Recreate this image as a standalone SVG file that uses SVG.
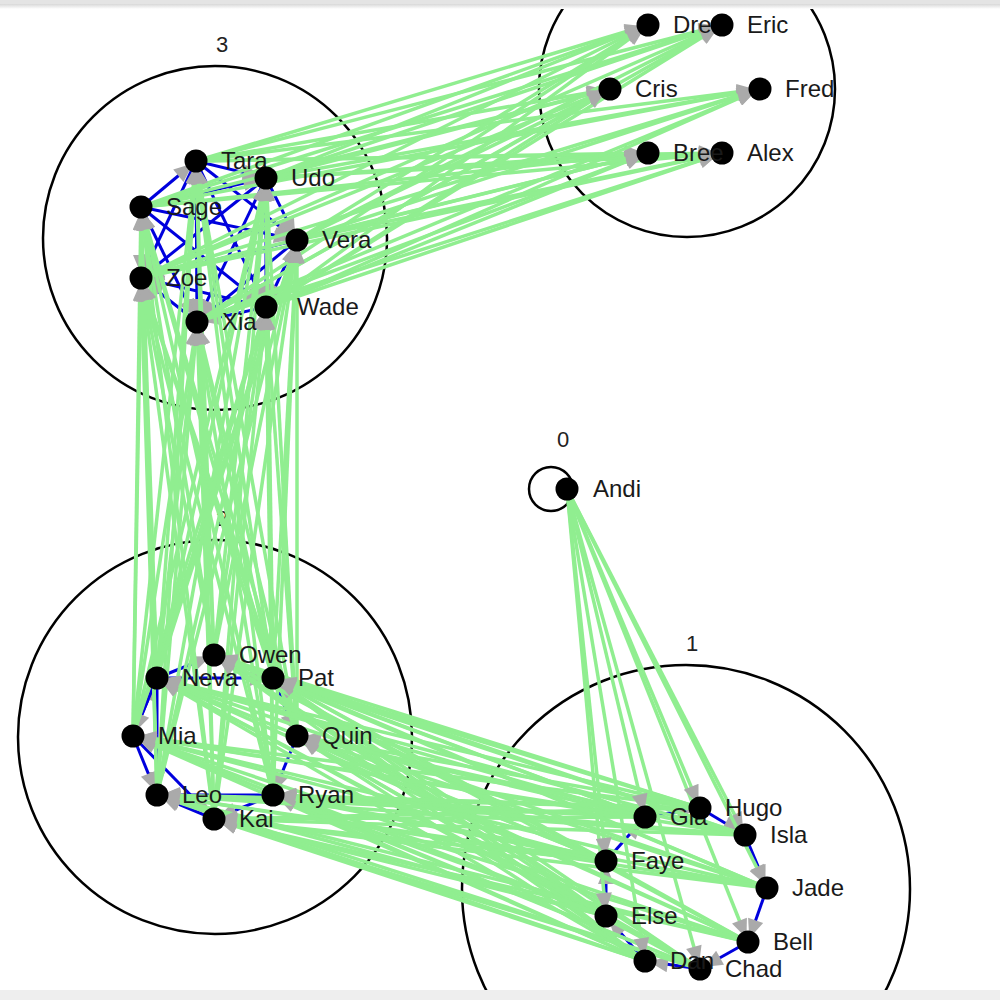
<svg xmlns="http://www.w3.org/2000/svg" width="1000" height="1000" viewBox="0 0 1000 1000">
<defs>
<style>
.cl{fill:none;stroke:#000;stroke-width:2.5}
.ct{font-family:"Liberation Sans",Arial,sans-serif;font-size:22px;fill:#222;text-anchor:middle}
.nl{font-family:"Liberation Sans",Arial,sans-serif;font-size:24px;fill:#1a1a1a}
.dot{fill:#000}
#green line{stroke:#90EE90;stroke-width:3.5;marker-end:url(#ah)}
#blue line{stroke:#0000dd;stroke-width:3;marker-end:url(#ah)}
</style>
<marker id="ah" viewBox="0 0 26 16" refX="26" refY="8" markerWidth="26" markerHeight="16" markerUnits="userSpaceOnUse" orient="auto">
<path d="M3,0 L22,8 L3,16 Z" fill="#aaaaaa"/>
</marker>
<linearGradient id="topfade" x1="0" y1="0" x2="0" y2="1">
<stop offset="0" stop-color="#d8d8d8"/>
<stop offset="1" stop-color="#ffffff"/>
</linearGradient>
</defs>
<rect x="0" y="0" width="1000" height="1000" fill="#fff"/>
<g id="clusters">
<circle class="cl" cx="551" cy="489" r="22"/>
<circle class="cl" cx="686" cy="889" r="224"/>
<circle class="cl" cx="215" cy="737" r="197"/>
<circle class="cl" cx="215" cy="238" r="172"/>
<circle class="cl" cx="687" cy="89" r="148"/>
<text class="ct" x="563" y="447">0</text>
<text class="ct" x="692" y="651">1</text>
<text class="ct" x="222" y="526">2</text>
<text class="ct" x="222" y="52">3</text>
</g>
<g id="blue">
<line x1="141" y1="207" x2="196" y2="161"/>
<line x1="141" y1="207" x2="266" y2="178"/>
<line x1="141" y1="207" x2="297" y2="240"/>
<line x1="141" y1="207" x2="266" y2="307"/>
<line x1="141" y1="207" x2="197" y2="322"/>
<line x1="141" y1="207" x2="141" y2="278"/>
<line x1="196" y1="161" x2="266" y2="178"/>
<line x1="196" y1="161" x2="297" y2="240"/>
<line x1="196" y1="161" x2="266" y2="307"/>
<line x1="196" y1="161" x2="197" y2="322"/>
<line x1="196" y1="161" x2="141" y2="278"/>
<line x1="266" y1="178" x2="297" y2="240"/>
<line x1="266" y1="178" x2="266" y2="307"/>
<line x1="266" y1="178" x2="197" y2="322"/>
<line x1="266" y1="178" x2="141" y2="278"/>
<line x1="297" y1="240" x2="266" y2="307"/>
<line x1="297" y1="240" x2="197" y2="322"/>
<line x1="297" y1="240" x2="141" y2="278"/>
<line x1="266" y1="307" x2="197" y2="322"/>
<line x1="266" y1="307" x2="141" y2="278"/>
<line x1="197" y1="322" x2="141" y2="278"/>
<line x1="157" y1="678" x2="214" y2="655"/>
<line x1="157" y1="678" x2="273" y2="678"/>
<line x1="273" y1="678" x2="297" y2="736"/>
<line x1="297" y1="736" x2="273" y2="795"/>
<line x1="273" y1="795" x2="157" y2="795"/>
<line x1="133" y1="736" x2="157" y2="678"/>
<line x1="157" y1="678" x2="133" y2="736"/>
<line x1="214" y1="819" x2="157" y2="795"/>
<line x1="273" y1="795" x2="214" y2="819"/>
<line x1="133" y1="736" x2="214" y2="819"/>
<line x1="157" y1="678" x2="157" y2="795"/>
<line x1="133" y1="736" x2="157" y2="795"/>
<line x1="700" y1="808" x2="745" y2="835"/>
<line x1="745" y1="835" x2="767" y2="888"/>
<line x1="767" y1="888" x2="748" y2="942"/>
<line x1="748" y1="942" x2="700" y2="969"/>
<line x1="700" y1="969" x2="645" y2="961"/>
<line x1="645" y1="961" x2="606" y2="916"/>
<line x1="606" y1="916" x2="606" y2="861"/>
<line x1="606" y1="861" x2="645" y2="817"/>
<line x1="645" y1="817" x2="700" y2="808"/>
</g>
<g id="green">
<line x1="141" y1="207" x2="722" y2="153"/>
<line x1="141" y1="207" x2="648" y2="153"/>
<line x1="141" y1="207" x2="610" y2="89"/>
<line x1="141" y1="207" x2="648" y2="25"/>
<line x1="141" y1="207" x2="722" y2="25"/>
<line x1="141" y1="207" x2="760" y2="89"/>
<line x1="196" y1="161" x2="722" y2="153"/>
<line x1="196" y1="161" x2="648" y2="153"/>
<line x1="196" y1="161" x2="610" y2="89"/>
<line x1="196" y1="161" x2="648" y2="25"/>
<line x1="196" y1="161" x2="722" y2="25"/>
<line x1="196" y1="161" x2="760" y2="89"/>
<line x1="266" y1="178" x2="722" y2="153"/>
<line x1="266" y1="178" x2="648" y2="153"/>
<line x1="266" y1="178" x2="610" y2="89"/>
<line x1="266" y1="178" x2="648" y2="25"/>
<line x1="266" y1="178" x2="722" y2="25"/>
<line x1="266" y1="178" x2="760" y2="89"/>
<line x1="297" y1="240" x2="722" y2="153"/>
<line x1="297" y1="240" x2="648" y2="153"/>
<line x1="297" y1="240" x2="610" y2="89"/>
<line x1="297" y1="240" x2="648" y2="25"/>
<line x1="297" y1="240" x2="722" y2="25"/>
<line x1="297" y1="240" x2="760" y2="89"/>
<line x1="266" y1="307" x2="722" y2="153"/>
<line x1="266" y1="307" x2="648" y2="153"/>
<line x1="266" y1="307" x2="610" y2="89"/>
<line x1="266" y1="307" x2="648" y2="25"/>
<line x1="266" y1="307" x2="722" y2="25"/>
<line x1="266" y1="307" x2="760" y2="89"/>
<line x1="197" y1="322" x2="722" y2="153"/>
<line x1="197" y1="322" x2="648" y2="153"/>
<line x1="197" y1="322" x2="610" y2="89"/>
<line x1="197" y1="322" x2="648" y2="25"/>
<line x1="197" y1="322" x2="722" y2="25"/>
<line x1="197" y1="322" x2="760" y2="89"/>
<line x1="141" y1="278" x2="722" y2="153"/>
<line x1="141" y1="278" x2="648" y2="153"/>
<line x1="141" y1="278" x2="610" y2="89"/>
<line x1="141" y1="278" x2="648" y2="25"/>
<line x1="141" y1="278" x2="722" y2="25"/>
<line x1="141" y1="278" x2="760" y2="89"/>
<line x1="214" y1="819" x2="141" y2="207"/>
<line x1="214" y1="819" x2="196" y2="161"/>
<line x1="214" y1="819" x2="266" y2="178"/>
<line x1="214" y1="819" x2="297" y2="240"/>
<line x1="214" y1="819" x2="266" y2="307"/>
<line x1="214" y1="819" x2="197" y2="322"/>
<line x1="214" y1="819" x2="141" y2="278"/>
<line x1="157" y1="795" x2="141" y2="207"/>
<line x1="157" y1="795" x2="196" y2="161"/>
<line x1="157" y1="795" x2="266" y2="178"/>
<line x1="157" y1="795" x2="297" y2="240"/>
<line x1="157" y1="795" x2="266" y2="307"/>
<line x1="157" y1="795" x2="197" y2="322"/>
<line x1="157" y1="795" x2="141" y2="278"/>
<line x1="133" y1="736" x2="141" y2="207"/>
<line x1="133" y1="736" x2="196" y2="161"/>
<line x1="133" y1="736" x2="266" y2="178"/>
<line x1="133" y1="736" x2="297" y2="240"/>
<line x1="133" y1="736" x2="266" y2="307"/>
<line x1="133" y1="736" x2="197" y2="322"/>
<line x1="133" y1="736" x2="141" y2="278"/>
<line x1="157" y1="678" x2="141" y2="207"/>
<line x1="157" y1="678" x2="196" y2="161"/>
<line x1="157" y1="678" x2="266" y2="178"/>
<line x1="157" y1="678" x2="297" y2="240"/>
<line x1="157" y1="678" x2="266" y2="307"/>
<line x1="157" y1="678" x2="197" y2="322"/>
<line x1="157" y1="678" x2="141" y2="278"/>
<line x1="214" y1="655" x2="141" y2="207"/>
<line x1="214" y1="655" x2="196" y2="161"/>
<line x1="214" y1="655" x2="266" y2="178"/>
<line x1="214" y1="655" x2="297" y2="240"/>
<line x1="214" y1="655" x2="266" y2="307"/>
<line x1="214" y1="655" x2="197" y2="322"/>
<line x1="214" y1="655" x2="141" y2="278"/>
<line x1="273" y1="678" x2="141" y2="207"/>
<line x1="273" y1="678" x2="196" y2="161"/>
<line x1="273" y1="678" x2="266" y2="178"/>
<line x1="273" y1="678" x2="297" y2="240"/>
<line x1="273" y1="678" x2="266" y2="307"/>
<line x1="273" y1="678" x2="197" y2="322"/>
<line x1="273" y1="678" x2="141" y2="278"/>
<line x1="297" y1="736" x2="141" y2="207"/>
<line x1="297" y1="736" x2="196" y2="161"/>
<line x1="297" y1="736" x2="266" y2="178"/>
<line x1="297" y1="736" x2="297" y2="240"/>
<line x1="297" y1="736" x2="266" y2="307"/>
<line x1="297" y1="736" x2="197" y2="322"/>
<line x1="297" y1="736" x2="141" y2="278"/>
<line x1="273" y1="795" x2="141" y2="207"/>
<line x1="273" y1="795" x2="196" y2="161"/>
<line x1="273" y1="795" x2="266" y2="178"/>
<line x1="273" y1="795" x2="297" y2="240"/>
<line x1="273" y1="795" x2="266" y2="307"/>
<line x1="273" y1="795" x2="197" y2="322"/>
<line x1="273" y1="795" x2="141" y2="278"/>
<line x1="748" y1="942" x2="214" y2="819"/>
<line x1="748" y1="942" x2="157" y2="795"/>
<line x1="748" y1="942" x2="133" y2="736"/>
<line x1="748" y1="942" x2="157" y2="678"/>
<line x1="748" y1="942" x2="214" y2="655"/>
<line x1="748" y1="942" x2="273" y2="678"/>
<line x1="748" y1="942" x2="297" y2="736"/>
<line x1="748" y1="942" x2="273" y2="795"/>
<line x1="700" y1="969" x2="214" y2="819"/>
<line x1="700" y1="969" x2="157" y2="795"/>
<line x1="700" y1="969" x2="133" y2="736"/>
<line x1="700" y1="969" x2="157" y2="678"/>
<line x1="700" y1="969" x2="214" y2="655"/>
<line x1="700" y1="969" x2="273" y2="678"/>
<line x1="700" y1="969" x2="297" y2="736"/>
<line x1="700" y1="969" x2="273" y2="795"/>
<line x1="645" y1="961" x2="214" y2="819"/>
<line x1="645" y1="961" x2="157" y2="795"/>
<line x1="645" y1="961" x2="133" y2="736"/>
<line x1="645" y1="961" x2="157" y2="678"/>
<line x1="645" y1="961" x2="214" y2="655"/>
<line x1="645" y1="961" x2="273" y2="678"/>
<line x1="645" y1="961" x2="297" y2="736"/>
<line x1="645" y1="961" x2="273" y2="795"/>
<line x1="606" y1="916" x2="214" y2="819"/>
<line x1="606" y1="916" x2="157" y2="795"/>
<line x1="606" y1="916" x2="133" y2="736"/>
<line x1="606" y1="916" x2="157" y2="678"/>
<line x1="606" y1="916" x2="214" y2="655"/>
<line x1="606" y1="916" x2="273" y2="678"/>
<line x1="606" y1="916" x2="297" y2="736"/>
<line x1="606" y1="916" x2="273" y2="795"/>
<line x1="606" y1="861" x2="214" y2="819"/>
<line x1="606" y1="861" x2="157" y2="795"/>
<line x1="606" y1="861" x2="133" y2="736"/>
<line x1="606" y1="861" x2="157" y2="678"/>
<line x1="606" y1="861" x2="214" y2="655"/>
<line x1="606" y1="861" x2="273" y2="678"/>
<line x1="606" y1="861" x2="297" y2="736"/>
<line x1="606" y1="861" x2="273" y2="795"/>
<line x1="645" y1="817" x2="214" y2="819"/>
<line x1="645" y1="817" x2="157" y2="795"/>
<line x1="645" y1="817" x2="133" y2="736"/>
<line x1="645" y1="817" x2="157" y2="678"/>
<line x1="645" y1="817" x2="214" y2="655"/>
<line x1="645" y1="817" x2="273" y2="678"/>
<line x1="645" y1="817" x2="297" y2="736"/>
<line x1="645" y1="817" x2="273" y2="795"/>
<line x1="700" y1="808" x2="214" y2="819"/>
<line x1="700" y1="808" x2="157" y2="795"/>
<line x1="700" y1="808" x2="133" y2="736"/>
<line x1="700" y1="808" x2="157" y2="678"/>
<line x1="700" y1="808" x2="214" y2="655"/>
<line x1="700" y1="808" x2="273" y2="678"/>
<line x1="700" y1="808" x2="297" y2="736"/>
<line x1="700" y1="808" x2="273" y2="795"/>
<line x1="745" y1="835" x2="214" y2="819"/>
<line x1="745" y1="835" x2="157" y2="795"/>
<line x1="745" y1="835" x2="133" y2="736"/>
<line x1="745" y1="835" x2="157" y2="678"/>
<line x1="745" y1="835" x2="214" y2="655"/>
<line x1="745" y1="835" x2="273" y2="678"/>
<line x1="745" y1="835" x2="297" y2="736"/>
<line x1="745" y1="835" x2="273" y2="795"/>
<line x1="767" y1="888" x2="214" y2="819"/>
<line x1="767" y1="888" x2="157" y2="795"/>
<line x1="767" y1="888" x2="133" y2="736"/>
<line x1="767" y1="888" x2="157" y2="678"/>
<line x1="767" y1="888" x2="214" y2="655"/>
<line x1="767" y1="888" x2="273" y2="678"/>
<line x1="767" y1="888" x2="297" y2="736"/>
<line x1="767" y1="888" x2="273" y2="795"/>
<line x1="567" y1="489" x2="748" y2="942"/>
<line x1="567" y1="489" x2="700" y2="969"/>
<line x1="567" y1="489" x2="645" y2="961"/>
<line x1="567" y1="489" x2="606" y2="916"/>
<line x1="567" y1="489" x2="606" y2="861"/>
<line x1="567" y1="489" x2="645" y2="817"/>
<line x1="567" y1="489" x2="700" y2="808"/>
<line x1="567" y1="489" x2="745" y2="835"/>
<line x1="567" y1="489" x2="767" y2="888"/>
</g>
<g id="node-Andi"><circle class="dot" cx="567" cy="489" r="11.5"/><text class="nl" x="593" y="497">Andi</text></g>
<g id="node-Alex"><circle class="dot" cx="722" cy="153" r="11.5"/><text class="nl" x="747" y="161">Alex</text></g>
<g id="node-Bree"><circle class="dot" cx="648" cy="153" r="11.5"/><text class="nl" x="673" y="161">Bree</text></g>
<g id="node-Cris"><circle class="dot" cx="610" cy="89" r="11.5"/><text class="nl" x="635" y="97">Cris</text></g>
<g id="node-Drew"><circle class="dot" cx="648" cy="25" r="11.5"/><text class="nl" x="673" y="33">Drew</text></g>
<g id="node-Eric"><circle class="dot" cx="722" cy="25" r="11.5"/><text class="nl" x="747" y="33">Eric</text></g>
<g id="node-Fred"><circle class="dot" cx="760" cy="89" r="11.5"/><text class="nl" x="785" y="97">Fred</text></g>
<g id="node-Sage"><circle class="dot" cx="141" cy="207" r="11.5"/><text class="nl" x="166" y="215">Sage</text></g>
<g id="node-Tara"><circle class="dot" cx="196" cy="161" r="11.5"/><text class="nl" x="221" y="169">Tara</text></g>
<g id="node-Udo"><circle class="dot" cx="266" cy="178" r="11.5"/><text class="nl" x="291" y="186">Udo</text></g>
<g id="node-Vera"><circle class="dot" cx="297" cy="240" r="11.5"/><text class="nl" x="322" y="248">Vera</text></g>
<g id="node-Wade"><circle class="dot" cx="266" cy="307" r="11.5"/><text class="nl" x="297" y="315">Wade</text></g>
<g id="node-Xia"><circle class="dot" cx="197" cy="322" r="11.5"/><text class="nl" x="222" y="330">Xia</text></g>
<g id="node-Zoe"><circle class="dot" cx="141" cy="278" r="11.5"/><text class="nl" x="166" y="286">Zoe</text></g>
<g id="node-Kai"><circle class="dot" cx="214" cy="819" r="11.5"/><text class="nl" x="239" y="827">Kai</text></g>
<g id="node-Leo"><circle class="dot" cx="157" cy="795" r="11.5"/><text class="nl" x="182" y="803">Leo</text></g>
<g id="node-Mia"><circle class="dot" cx="133" cy="736" r="11.5"/><text class="nl" x="158" y="744">Mia</text></g>
<g id="node-Neva"><circle class="dot" cx="157" cy="678" r="11.5"/><text class="nl" x="182" y="686">Neva</text></g>
<g id="node-Owen"><circle class="dot" cx="214" cy="655" r="11.5"/><text class="nl" x="239" y="663">Owen</text></g>
<g id="node-Pat"><circle class="dot" cx="273" cy="678" r="11.5"/><text class="nl" x="298" y="686">Pat</text></g>
<g id="node-Quin"><circle class="dot" cx="297" cy="736" r="11.5"/><text class="nl" x="322" y="744">Quin</text></g>
<g id="node-Ryan"><circle class="dot" cx="273" cy="795" r="11.5"/><text class="nl" x="298" y="803">Ryan</text></g>
<g id="node-Bell"><circle class="dot" cx="748" cy="942" r="11.5"/><text class="nl" x="773" y="950">Bell</text></g>
<g id="node-Chad"><circle class="dot" cx="700" cy="969" r="11.5"/><text class="nl" x="725" y="977">Chad</text></g>
<g id="node-Dan"><circle class="dot" cx="645" cy="961" r="11.5"/><text class="nl" x="670" y="969">Dan</text></g>
<g id="node-Else"><circle class="dot" cx="606" cy="916" r="11.5"/><text class="nl" x="631" y="924">Else</text></g>
<g id="node-Faye"><circle class="dot" cx="606" cy="861" r="11.5"/><text class="nl" x="631" y="869">Faye</text></g>
<g id="node-Gia"><circle class="dot" cx="645" cy="817" r="11.5"/><text class="nl" x="670" y="825">Gia</text></g>
<g id="node-Hugo"><circle class="dot" cx="700" cy="808" r="11.5"/><text class="nl" x="725" y="816">Hugo</text></g>
<g id="node-Isla"><circle class="dot" cx="745" cy="835" r="11.5"/><text class="nl" x="770" y="843">Isla</text></g>
<g id="node-Jade"><circle class="dot" cx="767" cy="888" r="11.5"/><text class="nl" x="792" y="896">Jade</text></g>
<g id="frame">
<rect x="0" y="0" width="1000" height="4" fill="#e4e4e4"/>
<rect x="0" y="4" width="1000" height="5" fill="url(#topfade)"/>
<rect x="0" y="990" width="1000" height="10" fill="#eeeeee"/>
</g>
</svg>
